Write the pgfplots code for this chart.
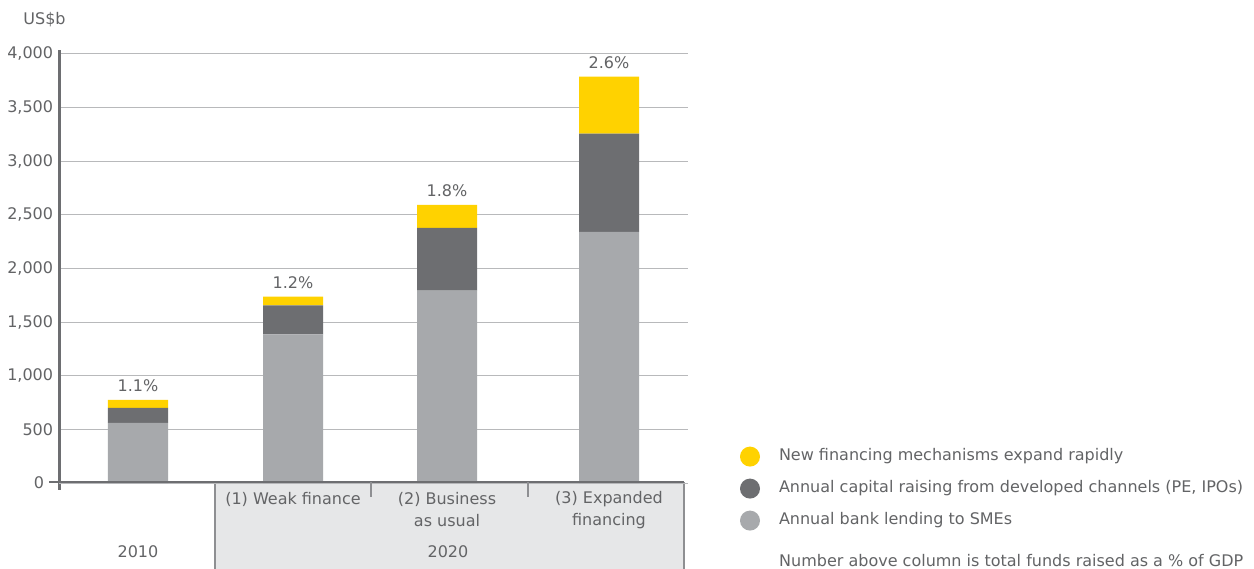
\documentclass[border=0pt]{standalone}
\usepackage{pgfplots}
\pgfplotsset{compat=1.18}
\usepackage{fontspec}
\setmainfont{DejaVu Sans}
\definecolor{ylw}{HTML}{FFD200}
\definecolor{dgray}{HTML}{6D6E71}
\definecolor{lgray}{HTML}{A7A9AC}
\definecolor{boxfill}{HTML}{E6E7E8}
\definecolor{boxborder}{HTML}{8E8F92}
\definecolor{txt}{HTML}{636466}
\definecolor{gridc}{HTML}{B8B9BB}
\definecolor{axisc}{HTML}{6D6E71}
\begin{document}
\fontsize{16}{19}\selectfont
\begin{tikzpicture}[x=1pt,y=1pt]
\useasboundingbox (0,0) rectangle (1254,569);
\fill[white] (0,0) rectangle (1254,569);
% 2020 box
\fill[boxfill] (215,0) rectangle (684,86.5);
\draw[boxborder, line width=1.5pt] (215,0) -- (215,86.5) (684,86.5) -- (684,0);
\begin{axis}[
  at={(59.3,74.06)}, anchor=south west,
  scale only axis, width=628.7pt, height=439.9pt,
  xmin=59.3, xmax=688, ymin=-60, ymax=4040,
  hide x axis,
  axis y line*=left,
  y axis line style={line width=3pt, draw=axisc, -},
  ytick={500,1000,...,4000},
  extra y ticks={0},
  extra y tick style={yticklabel style={xshift=-9pt}},
  ymajorgrids,
  major grid style={gridc, line width=1pt},
  major tick length=0pt,
  yticklabel style={text=txt, inner sep=0pt, xshift=-6pt},
  /pgf/number format/1000 sep={,},
  /pgf/number format/assume math mode=true,
  ybar stacked, bar width=60pt,
  clip=false,
  reverse legend,
  legend cell align=left,
  legend image code/.code={\fill (10pt,0pt) circle (10pt);},
  legend style={at={(1.08271,0.09761)}, anchor=north west, draw=none, fill=none,
    inner sep=0pt, outer sep=0pt, row sep=12pt, column sep=19pt,
    nodes={inner sep=0pt, text=txt, text height=12pt, text depth=4pt}},
]
\addplot[fill=lgray, draw=none] coordinates {(138,561) (293,1387) (447,1795) (609,2342)};
\addplot[fill=dgray, draw=none] coordinates {(138,140) (293,269) (447,584) (609,914)};
\addplot[fill=ylw, draw=none] coordinates {(138,74) (293,83) (447,214) (609,533)};
\legend{Annual bank lending to SMEs, {Annual capital raising from developed channels (PE, IPOs)}, New financing mechanisms expand rapidly}
\node[text=txt] at (axis cs:138,775) [yshift=14pt] {1.1\%};
\node[text=txt] at (axis cs:293,1739) [yshift=14pt] {1.2\%};
\node[text=txt] at (axis cs:447,2593) [yshift=14pt] {1.8\%};
\node[text=txt] at (axis cs:609,3789) [yshift=14pt] {2.6\%};
\end{axis}
% baseline
\draw[axisc, line width=2pt] (49,86.5) -- (684,86.5);
\draw[boxborder, line width=1.2pt] (371,86.5) -- (371,72) (528,86.5) -- (528,72);
\node[text=txt] at (44.5,549) {US\$b};
\node[text=txt] at (293,70) {(1) Weak finance};
\node[text=txt, align=center, font=\fontsize{16}{22}\selectfont] at (447,59) {(2) Business\\as usual};
\node[text=txt, align=center, font=\fontsize{16}{22}\selectfont] at (609,59) {(3) Expanded\\financing};
\node[text=txt] at (138,17) {2010};
\node[text=txt] at (448,17) {2020};
\node[text=txt, anchor=west, inner sep=0pt] at (779,8) {Number above column is total funds raised as a \% of GDP};
\end{tikzpicture}
\end{document}
